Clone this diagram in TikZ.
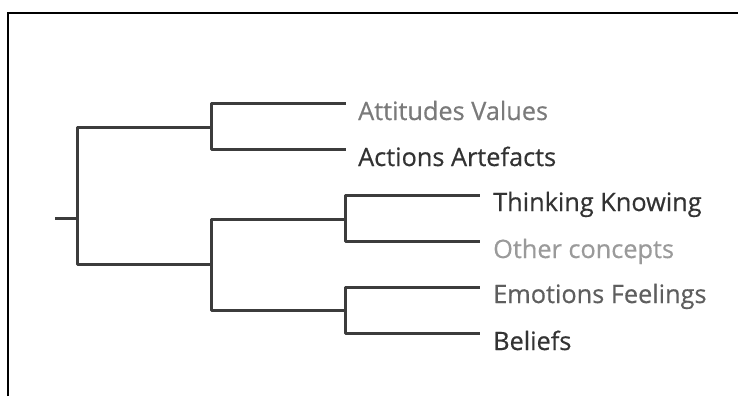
\documentclass[tikz,border=0pt]{standalone}
\usepackage{fontspec}
\setmainfont{Open Sans}[FakeBold=0.5]
\usetikzlibrary{calc}
\definecolor{branch}{HTML}{3C3C3C}
\definecolor{inkdark}{HTML}{333333}
\definecolor{inkmid}{HTML}{5E5E5E}
\definecolor{inkgray}{HTML}{7A7A7A}
\definecolor{inklight}{HTML}{9A9A9A}
\tikzset{
  branchline/.style={draw=branch, line width=3pt, line join=round},
  framepen/.style={draw=black, line width=2pt},
  leaf/.style={anchor=base west, inner sep=0pt, font=\fontsize{25.3}{28}\selectfont},
}
\begin{document}
\begin{tikzpicture}[x=1pt, y=-1pt]
  \useasboundingbox (0,0) rectangle (738,396);
  % outer frame, open on the right and bottom
  \draw[framepen] (8,396) -- (8,13) -- (738,13);

  % junctions of the dendrogram
  \coordinate (stub) at (55,218);
  \coordinate (root) at (77,218);
  \coordinate (up)   at (211,127);
  \coordinate (low)  at (211,264);
  \coordinate (think) at (345,219);
  \coordinate (emo)  at (345,310);

  % free ends of the leaf branches
  \coordinate (eAtt) at (346,103);
  \coordinate (eAct) at (346,149);
  \coordinate (eThk) at (480,195);
  \coordinate (eOth) at (480,241);
  \coordinate (eEmo) at (480,287);
  \coordinate (eBel) at (480,333);

  % leaf labels
  \node[leaf, text=inkgray]  (att) at ($(eAtt)+(12,17)$) {Attitudes Values};
  \node[leaf, text=inkdark]  (act) at ($(eAct)+(12,17)$) {Actions Artefacts};
  \node[leaf, text=inkdark]  (thk) at ($(eThk)+(13,16)$) {Thinking Knowing};
  \node[leaf, text=inklight] (oth) at ($(eOth)+(13,17)$) {Other concepts};
  \node[leaf, text=inkmid]   (emt) at ($(eEmo)+(13,16)$) {Emotions Feelings};
  \node[leaf, text=inkdark]  (bel) at ($(eBel)+(13,17)$) {Beliefs};

  % branches
  \draw[branchline] (stub) -- (root);
  \draw[branchline] (root) |- (up);
  \draw[branchline] (root) |- (low);
  \draw[branchline] (up) |- (eAtt);
  \draw[branchline] (up) |- (eAct);
  \draw[branchline] (low) |- (think);
  \draw[branchline] (low) |- (emo);
  \draw[branchline] (think) |- (eThk);
  \draw[branchline] (think) |- (eOth);
  \draw[branchline] (emo) |- (eEmo);
  \draw[branchline] (emo) |- (eBel);
\end{tikzpicture}
\end{document}
